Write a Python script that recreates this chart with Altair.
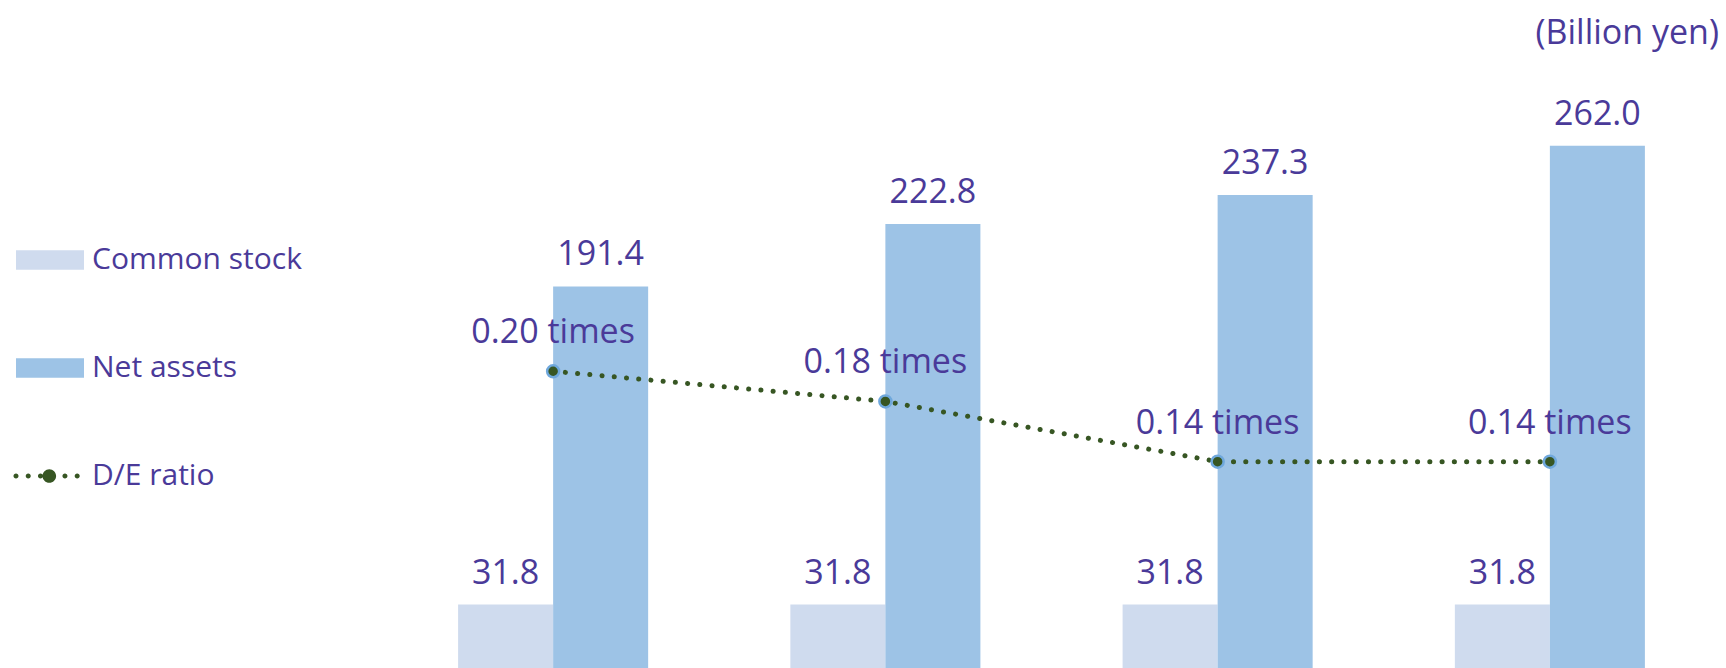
import altair as alt
import pandas as pd

# ---------------- data ----------------
years = ["FY1", "FY2", "FY3", "FY4"]
common_stock = [31.8, 31.8, 31.8, 31.8]
net_assets = [191.4, 222.8, 237.3, 262.0]
de_ratio = [0.20, 0.18, 0.14, 0.14]
series_names = ["Common stock", "Net assets", "D/E ratio"]
series_colors = ["#cfdbee", "#9dc3e6", "#375623"]
unit_label = "(Billion yen)"

FONT = "Open Sans"
TEXT = "#4a3a99"

bars_df = pd.DataFrame({
    "year": years * 2,
    "series": [series_names[0]] * len(years) + [series_names[1]] * len(years),
    "value": common_stock + net_assets,
})
bars_df["label"] = bars_df["value"].map(lambda v: f"{v:.1f}")

ratio_df = pd.DataFrame({"year": years, "series": series_names[2], "ratio": de_ratio})
ratio_df["label"] = ratio_df["ratio"].map(lambda v: f"{v:.2f} times")

# ---------------- legend symbols ----------------
def circ(cx, r):
    return f"M{cx - r:.3f},0A{r},{r} 0 1,0 {cx + r:.3f},0A{r},{r} 0 1,0 {cx - r:.3f},0Z"

rect_path = "M-1,-0.287L1,-0.287L1,0.287L-1,0.287Z"
line_path = "".join(circ(c, 0.074) for c in [-1.0, -0.64, -0.28, 0.44, 0.8]) + circ(-0.02, 0.2)
symbol_expr = f"datum.value === 'D/E ratio' ? '{line_path}' : '{rect_path}'"

legend = alt.Legend(
    orient="none", legendX=-371, legendY=156, title=None, direction="vertical",
    padding=0, symbolSize=4624, symbolType=alt.ExprRef(expr=symbol_expr),
    symbolFillColor=alt.ExprRef(expr="scale('color', datum.value)"),
    symbolStrokeWidth=0, symbolOpacity=1,
    labelFont=FONT, labelFontSize=30, labelColor=TEXT, labelOffset=8,
    rowPadding=59, labelLimit=400,
)
color_scale = alt.Scale(domain=series_names, range=series_colors)

x_enc = alt.X("year:N", sort=years, axis=None,
              scale=alt.Scale(paddingInner=0.428, paddingOuter=0.214))
xo_enc = alt.XOffset("series:N", sort=series_names[:2],
                     scale=alt.Scale(paddingInner=0, paddingOuter=0))
y_bar = alt.Y("value:Q", axis=None, scale=alt.Scale(domain=[0, 300]))
y_ratio = alt.Y("ratio:Q", axis=None, scale=alt.Scale(domain=[0.003, 0.4]))

base_bar = alt.Chart(bars_df)
bars = base_bar.mark_bar().encode(
    x=x_enc, xOffset=xo_enc, y=y_bar,
    color=alt.Color("series:N", scale=color_scale, legend=legend),
)
bar_text = base_bar.mark_text(font=FONT, fontSize=34, color=TEXT,
                              baseline="alphabetic", dy=-21).encode(
    x=x_enc, xOffset=xo_enc, y=y_bar, text="label:N")

base_ratio = alt.Chart(ratio_df)
line = base_ratio.mark_line(strokeWidth=5, strokeDash=[0.1, 12.17], strokeCap="round").encode(
    x=x_enc, y=y_ratio,
    color=alt.Color("series:N", scale=color_scale, legend=legend),
)
points = base_ratio.mark_point(shape="circle", filled=True, size=144, fill="#375623",
                               stroke="#6fa8dc", strokeWidth=2.5, opacity=1).encode(
    x=x_enc, y=y_ratio)
ratio_text = base_ratio.mark_text(font=FONT, fontSize=34, color=TEXT,
                                  baseline="alphabetic", dy=-28).encode(
    x=x_enc, y=y_ratio, text="label:N")

chart = alt.layer(
    alt.layer(bars, bar_text),
    alt.layer(line, points, ratio_text),
).resolve_scale(y="independent").properties(
    width=1329, height=598,
    padding={"left": 387, "top": 70, "right": 10, "bottom": 0},
    autosize=alt.AutoSizeParams(type="none"),
    title=alt.TitleParams(unit_label, anchor="end", orient="top", fontSize=34, font=FONT,
                          fontWeight="normal", color=TEXT, offset=19, dx=3),
).configure_view(stroke=None)

chart.save("out.html", embed_options={"renderer": "svg", "actions": False})
